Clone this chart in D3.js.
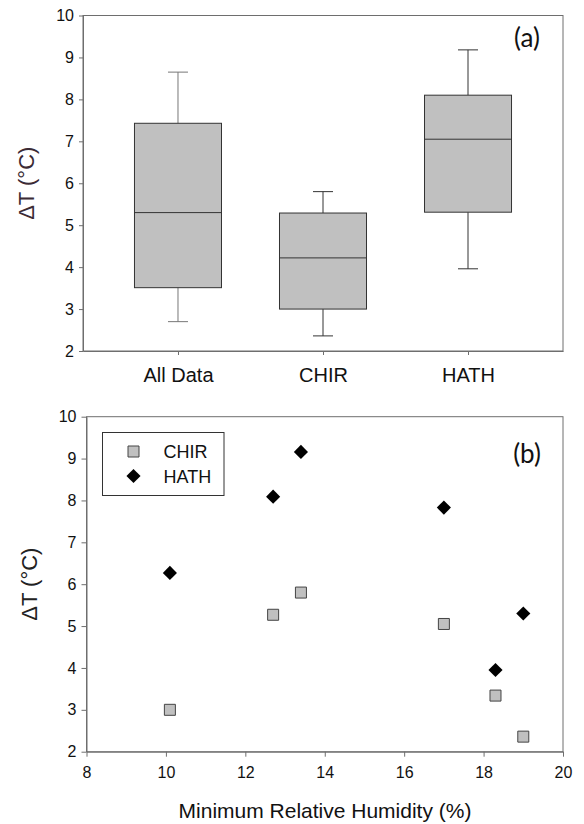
<!DOCTYPE html>
<html>
<head>
<meta charset="utf-8">
<script src="https://cdn.jsdelivr.net/npm/d3@7"></script>
<style>
  body { margin: 0; background: #fff; }
  svg { display: block; font-family: "Liberation Sans", Arial, sans-serif; }
</style>
</head>
<body>
<div id="chart"></div>
<script>
// box plot data (panel a)
const groups = ['All Data', 'CHIR', 'HATH'];
const whiskerLow = [2.70, 2.36, 3.96];
const q1 = [3.51, 3.00, 5.31];
const median = [5.30, 4.22, 7.05];
const q3 = [7.43, 5.29, 8.10];
const whiskerHigh = [8.65, 5.80, 9.18];

// scatter data (panel b)
const humidity = [10.1, 12.7, 13.4, 17.0, 18.3, 19.0];
const chirDeltaT = [3.00, 5.27, 5.80, 5.05, 3.34, 2.36];
const hathDeltaT = [6.27, 8.09, 9.16, 7.83, 3.95, 5.30];

const yTicks = [2, 3, 4, 5, 6, 7, 8, 9, 10];
const xTicks = [8, 10, 12, 14, 16, 18, 20];

const width = 584, height = 824;
const svg = d3.select('#chart').append('svg')
  .attr('width', width).attr('height', height);

const frameColor = '#6e6e6e';
const boxFill = '#c0c0c0';

// ---------- panel (a) ----------
const a = { left: 83, right: 563, top: 15.5, bottom: 351 };

const xa = d3.scalePoint().domain(groups).range([a.left, a.right]).padding(0.655);
const ya = d3.scaleLinear().domain([2, 10]).range([a.bottom, a.top]);
const step = xa.step();
const boxW = step * 0.6;
const capW = 20;

svg.append('rect')
  .attr('x', a.left).attr('y', a.top)
  .attr('width', a.right - a.left).attr('height', a.bottom - a.top)
  .attr('fill', 'none').attr('stroke', frameColor).attr('stroke-width', 1);

const gA = svg.append('g');
groups.forEach((g, i) => {
  const cx = xa(g);
  const wc = i === 0 ? '#777' : '#333';
  // whiskers
  gA.append('line').attr('x1', cx).attr('x2', cx)
    .attr('y1', ya(q3[i])).attr('y2', ya(whiskerHigh[i]))
    .attr('stroke', wc).attr('stroke-width', 1);
  gA.append('line').attr('x1', cx).attr('x2', cx)
    .attr('y1', ya(q1[i])).attr('y2', ya(whiskerLow[i]))
    .attr('stroke', wc).attr('stroke-width', 1);
  gA.append('line').attr('x1', cx - capW / 2).attr('x2', cx + capW / 2)
    .attr('y1', ya(whiskerHigh[i])).attr('y2', ya(whiskerHigh[i]))
    .attr('stroke', wc).attr('stroke-width', 1);
  gA.append('line').attr('x1', cx - capW / 2).attr('x2', cx + capW / 2)
    .attr('y1', ya(whiskerLow[i])).attr('y2', ya(whiskerLow[i]))
    .attr('stroke', wc).attr('stroke-width', 1);
  // box
  gA.append('rect')
    .attr('x', cx - boxW / 2).attr('y', ya(q3[i]))
    .attr('width', boxW).attr('height', ya(q1[i]) - ya(q3[i]))
    .attr('fill', boxFill).attr('stroke', '#333').attr('stroke-width', 1);
  gA.append('line').attr('x1', cx - boxW / 2).attr('x2', cx + boxW / 2)
    .attr('y1', ya(median[i])).attr('y2', ya(median[i]))
    .attr('stroke', '#333').attr('stroke-width', 1);
});

// axes (a)
const yAxisA = svg.append('g')
  .attr('transform', `translate(${a.left},0)`)
  .call(d3.axisLeft(ya).tickValues(yTicks).tickSize(4).tickPadding(5).tickSizeOuter(0));
const xAxisA = svg.append('g')
  .attr('transform', `translate(0,${a.bottom})`)
  .call(d3.axisBottom(xa).tickSize(4).tickPadding(13).tickSizeOuter(0));

[yAxisA, xAxisA].forEach(ax => {
  ax.select('.domain').attr('stroke', frameColor);
  ax.selectAll('.tick line').attr('stroke', frameColor);
  ax.selectAll('.tick text').attr('fill', '#111')
    .style('font-family', '"Liberation Sans", Arial, sans-serif');
});
yAxisA.selectAll('.tick text').style('font-size', '16px');
xAxisA.selectAll('.tick text').style('font-size', '20px');

svg.append('text')
  .attr('transform', `translate(34,${(a.top + a.bottom) / 2}) rotate(-90)`)
  .attr('text-anchor', 'middle')
  .attr('fill', '#3b2b35')
  .style('font-size', '22px')
  .text('ΔT (°C)');

svg.append('text')
  .attr('x', 527).attr('y', 47)
  .attr('text-anchor', 'middle')
  .attr('fill', '#111')
  .style('font-family', 'Lato, "Open Sans", sans-serif')
  .style('font-size', '26px')
  .text('(a)');

// ---------- panel (b) ----------
const b = { left: 86.5, right: 563, top: 416.7, bottom: 751.7 };

const xb = d3.scaleLinear().domain([8, 20]).range([b.left, b.right]);
const yb = d3.scaleLinear().domain([2, 10]).range([b.bottom, b.top]);

svg.append('rect')
  .attr('x', b.left).attr('y', b.top)
  .attr('width', b.right - b.left).attr('height', b.bottom - b.top)
  .attr('fill', 'none').attr('stroke', frameColor).attr('stroke-width', 1);

const yAxisB = svg.append('g')
  .attr('transform', `translate(${b.left},0)`)
  .call(d3.axisLeft(yb).tickValues(yTicks).tickSize(5).tickPadding(5).tickSizeOuter(0));
const xAxisB = svg.append('g')
  .attr('transform', `translate(0,${b.bottom})`)
  .call(d3.axisBottom(xb).tickValues(xTicks).tickSize(5).tickPadding(10).tickSizeOuter(0));

[yAxisB, xAxisB].forEach(ax => {
  ax.select('.domain').attr('stroke', frameColor);
  ax.selectAll('.tick line').attr('stroke', frameColor);
  ax.selectAll('.tick text').attr('fill', '#111')
    .style('font-family', '"Liberation Sans", Arial, sans-serif')
    .style('font-size', '16px');
});

svg.append('text')
  .attr('transform', `translate(37,${(b.top + b.bottom) / 2}) rotate(-90)`)
  .attr('text-anchor', 'middle')
  .attr('fill', '#222')
  .style('font-size', '22px')
  .text('ΔT (°C)');

svg.append('text')
  .attr('x', 325).attr('y', 818)
  .attr('text-anchor', 'middle')
  .attr('fill', '#111')
  .style('font-size', '21px')
  .text('Minimum Relative Humidity (%)');

svg.append('text')
  .attr('x', 527).attr('y', 463)
  .attr('text-anchor', 'middle')
  .attr('fill', '#111')
  .style('font-family', 'Lato, "Open Sans", sans-serif')
  .style('font-size', '26px')
  .text('(b)');

const squareSym = d3.symbol().type(d3.symbolSquare).size(121);
const diamondSym = d3.symbol().type(d3.symbolSquare).size(100);

svg.append('g').selectAll('path.chir')
  .data(humidity.map((h, i) => [h, chirDeltaT[i]]))
  .join('path')
  .attr('class', 'chir')
  .attr('transform', d => `translate(${xb(d[0])},${yb(d[1])})`)
  .attr('d', squareSym)
  .attr('fill', boxFill).attr('stroke', '#444').attr('stroke-width', 1);

svg.append('g').selectAll('path.hath')
  .data(humidity.map((h, i) => [h, hathDeltaT[i]]))
  .join('path')
  .attr('class', 'hath')
  .attr('transform', d => `translate(${xb(d[0])},${yb(d[1])}) rotate(45)`)
  .attr('d', diamondSym)
  .attr('fill', '#000');

// legend
const leg = svg.append('g').attr('transform', 'translate(102.5,432.5)');
leg.append('rect').attr('width', 121.5).attr('height', 63)
  .attr('fill', '#fff').attr('stroke', '#333').attr('stroke-width', 1);
leg.append('path').attr('transform', 'translate(31,19)').attr('d', squareSym)
  .attr('fill', boxFill).attr('stroke', '#444').attr('stroke-width', 1);
leg.append('path').attr('transform', 'translate(31,43.5) rotate(45)').attr('d', diamondSym)
  .attr('fill', '#000');
leg.append('text').attr('x', 61).attr('y', 25.5)
  .attr('fill', '#111').style('font-size', '18px').text('CHIR');
leg.append('text').attr('x', 61).attr('y', 50)
  .attr('fill', '#111').style('font-size', '18px').text('HATH');
</script>
</body>
</html>
